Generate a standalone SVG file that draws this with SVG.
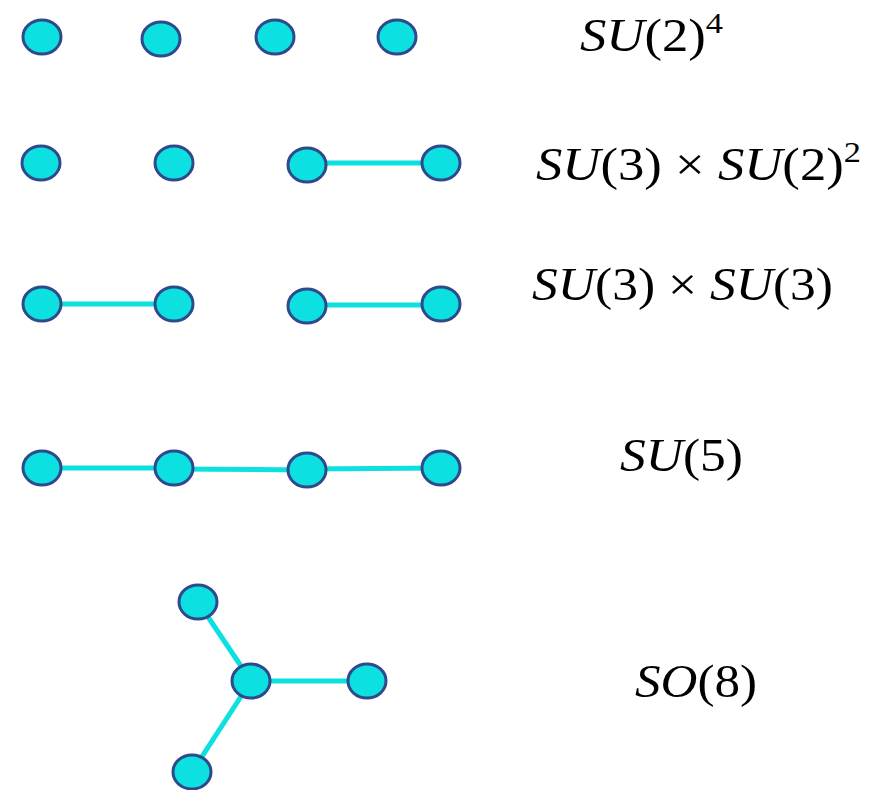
<svg xmlns="http://www.w3.org/2000/svg" width="889" height="790" viewBox="0 0 889 790">
<style>
.n{fill:#0CE0E0;stroke:#2F4A8A;stroke-width:3}
.e{stroke:#0CE0E0;stroke-width:5;fill:none}
.t{font-family:"Liberation Serif","DejaVu Serif",serif;font-size:46px;fill:#000}
.i{font-style:italic}
.s{font-size:30px}
</style>
<rect width="889" height="790" fill="#fff"/>
<g id="connectors">
<line class="e" x1="307" y1="163" x2="441" y2="163"/>
<line class="e" x1="42" y1="304" x2="174" y2="304"/>
<line class="e" x1="307" y1="305" x2="441" y2="305"/>
<line class="e" x1="42" y1="468" x2="174" y2="468"/>
<line class="e" x1="174" y1="469" x2="307" y2="470"/>
<line class="e" x1="307" y1="469" x2="441" y2="468"/>
<line class="e" x1="198" y1="602" x2="251" y2="681"/>
<line class="e" x1="251" y1="681" x2="367" y2="681"/>
<line class="e" x1="251" y1="681" x2="192" y2="772"/>
</g>
<g id="r1">
<ellipse id="n1a" class="n" cx="42" cy="37" rx="19" ry="17"/>
<ellipse id="n1b" class="n" cx="161" cy="39" rx="19" ry="17"/>
<ellipse id="n1c" class="n" cx="275" cy="37" rx="19" ry="17"/>
<ellipse id="n1d" class="n" cx="397" cy="37" rx="19" ry="17"/>
</g>
<g id="r2">
<ellipse id="n2a" class="n" cx="41" cy="163" rx="19" ry="17"/>
<ellipse id="n2b" class="n" cx="174" cy="163" rx="19" ry="17"/>
<ellipse id="n2c" class="n" cx="307" cy="165" rx="19" ry="17"/>
<ellipse id="n2d" class="n" cx="441" cy="163" rx="19" ry="17"/>
</g>
<g id="r3">
<ellipse id="n3a" class="n" cx="42" cy="304" rx="19" ry="17"/>
<ellipse id="n3b" class="n" cx="174" cy="304" rx="19" ry="17"/>
<ellipse id="n3c" class="n" cx="307" cy="306" rx="19" ry="17"/>
<ellipse id="n3d" class="n" cx="441" cy="304" rx="19" ry="17"/>
</g>
<g id="r4">
<ellipse id="n4a" class="n" cx="42" cy="468" rx="19" ry="17"/>
<ellipse id="n4b" class="n" cx="174" cy="468" rx="19" ry="17"/>
<ellipse id="n4c" class="n" cx="307" cy="470" rx="19" ry="17"/>
<ellipse id="n4d" class="n" cx="441" cy="468" rx="19" ry="17"/>
</g>
<g id="r5">
<ellipse id="n5a" class="n" cx="198" cy="602" rx="19" ry="17"/>
<ellipse id="n5b" class="n" cx="251" cy="681" rx="19" ry="17"/>
<ellipse id="n5c" class="n" cx="367" cy="681" rx="19" ry="17"/>
<ellipse id="n5d" class="n" cx="192" cy="772" rx="19" ry="17"/>
</g>
<g id="labels">
<text class="t" x="580" y="51" textLength="143" lengthAdjust="spacingAndGlyphs"><tspan class="i">SU</tspan>(2)<tspan class="s" dy="-18">4</tspan></text>
<text class="t" x="536" y="180" textLength="325" lengthAdjust="spacingAndGlyphs"><tspan class="i">SU</tspan>(3) × <tspan class="i">SU</tspan>(2)<tspan class="s" dy="-18">2</tspan></text>
<text class="t" x="532" y="300" textLength="301" lengthAdjust="spacingAndGlyphs"><tspan class="i">SU</tspan>(3) × <tspan class="i">SU</tspan>(3)</text>
<text class="t" x="620" y="471" textLength="123" lengthAdjust="spacingAndGlyphs"><tspan class="i">SU</tspan>(5)</text>
<text class="t" x="635" y="697" textLength="122" lengthAdjust="spacingAndGlyphs"><tspan class="i">SO</tspan>(8)</text>
</g>
</svg>
